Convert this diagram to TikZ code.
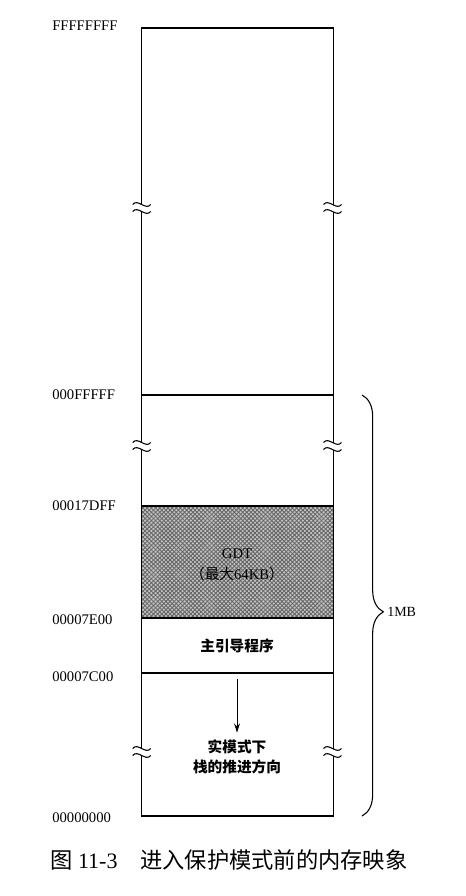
\documentclass[tikz,border=0pt]{standalone}
\usepackage{fontspec}
\setmainfont{Liberation Serif}
\newfontfamily\cjk{Noto Sans CJK SC}
\usetikzlibrary{arrows.meta,positioning,calc,decorations.pathreplacing,patterns.meta}

\begin{document}
\begin{tikzpicture}[
  x=0.75pt, y=-0.75pt,
  wall/.style={line width=0.9pt, black},
  addr/.style={anchor=west, inner sep=0pt, font=\fontsize{11}{13}\selectfont},
  inbox/.style={font=\cjk\bfseries\fontsize{11}{15.5}\selectfont, align=center, inner sep=1pt},
  gdtbox/.style={font=\fontsize{11}{15.5}\selectfont, align=center, inner sep=1pt, text=black},
  push/.style={-{Stealth[length=7pt,width=4.5pt]}, line width=0.7pt},
  brc/.style={decorate, decoration={brace, amplitude=16pt, aspect=0.515}, line width=0.8pt},
  breakmark/.pic={
    \fill[white] (-3,-3.5) rectangle (3,3.5);
    \draw[line width=0.8pt] (-9,-3.5) .. controls (-4,-10) and (4,3) .. (9,-3.5);
    \draw[line width=0.8pt] (-9,3.5) .. controls (-4,-3) and (4,10) .. (9,3.5);
  },
]
\useasboundingbox (0,0) rectangle (465,896);

% --- GDT area, shaded before the outline goes on top
\fill[black!22] (141.7,506) rectangle (333.3,618);
\path[pattern={Lines[angle=45,distance=2.2pt,line width=0.7pt]}, pattern color=black!60]
  (141.7,506) rectangle (333.3,618);
\path[pattern={Lines[angle=-45,distance=2.2pt,line width=0.7pt]}, pattern color=black!60]
  (141.7,506) rectangle (333.3,618);

% --- outline of the address space and the region borders
\draw[wall] (141.7,28) rectangle (333.3,816);
\foreach \y in {395,506,618,673}
  \draw[wall] (141.7,\y) -- (333.3,\y);

% --- gaps in the map
\foreach \y in {208,446,752} {
  \pic at (141.7,\y) {breakmark};
  \pic at (332.5,\y) {breakmark};
}

% --- addresses on the left
\foreach \y/\t/\n in {26/FFFFFFFF/aTop, 395/000FFFFF/aMeg, 506/00017DFF/aGdtHi,
                      620/00007E00/aGdtLo, 677/00007C00/aMbr, 818/00000000/aZero}
  \node[addr] (\n) at (52,\y) {\t};

% --- contents of the regions
\node[gdtbox] (gdt) at (237,565) {GDT\\{\cjk （最大}64KB{\cjk ）}};
\node[inbox] (mbr) at (237,646) {主引导程序};
\node[inbox] (stk) at (237,757) {实模式下\\栈的推进方向};

\coordinate (pushsrc) at (237,679);
\draw[push, shorten >=4pt] (pushsrc) -- (stk.north);

% --- the first megabyte
\draw[brc] (362,395) -- (362,816);
\node[addr, font=\fontsize{10.5}{13}\selectfont] (mb) at (387,612) {1MB};

% --- caption
\node[anchor=west, inner sep=0pt] (cap) at (50,860)
  {{\cjk\fontsize{16.7}{18}\selectfont 图}\fontsize{16.5}{18}\selectfont\ 11-3\hspace{17pt}{\cjk\fontsize{16.7}{18}\selectfont 进入保护模式前的内存映象}};
\end{tikzpicture}
\end{document}
